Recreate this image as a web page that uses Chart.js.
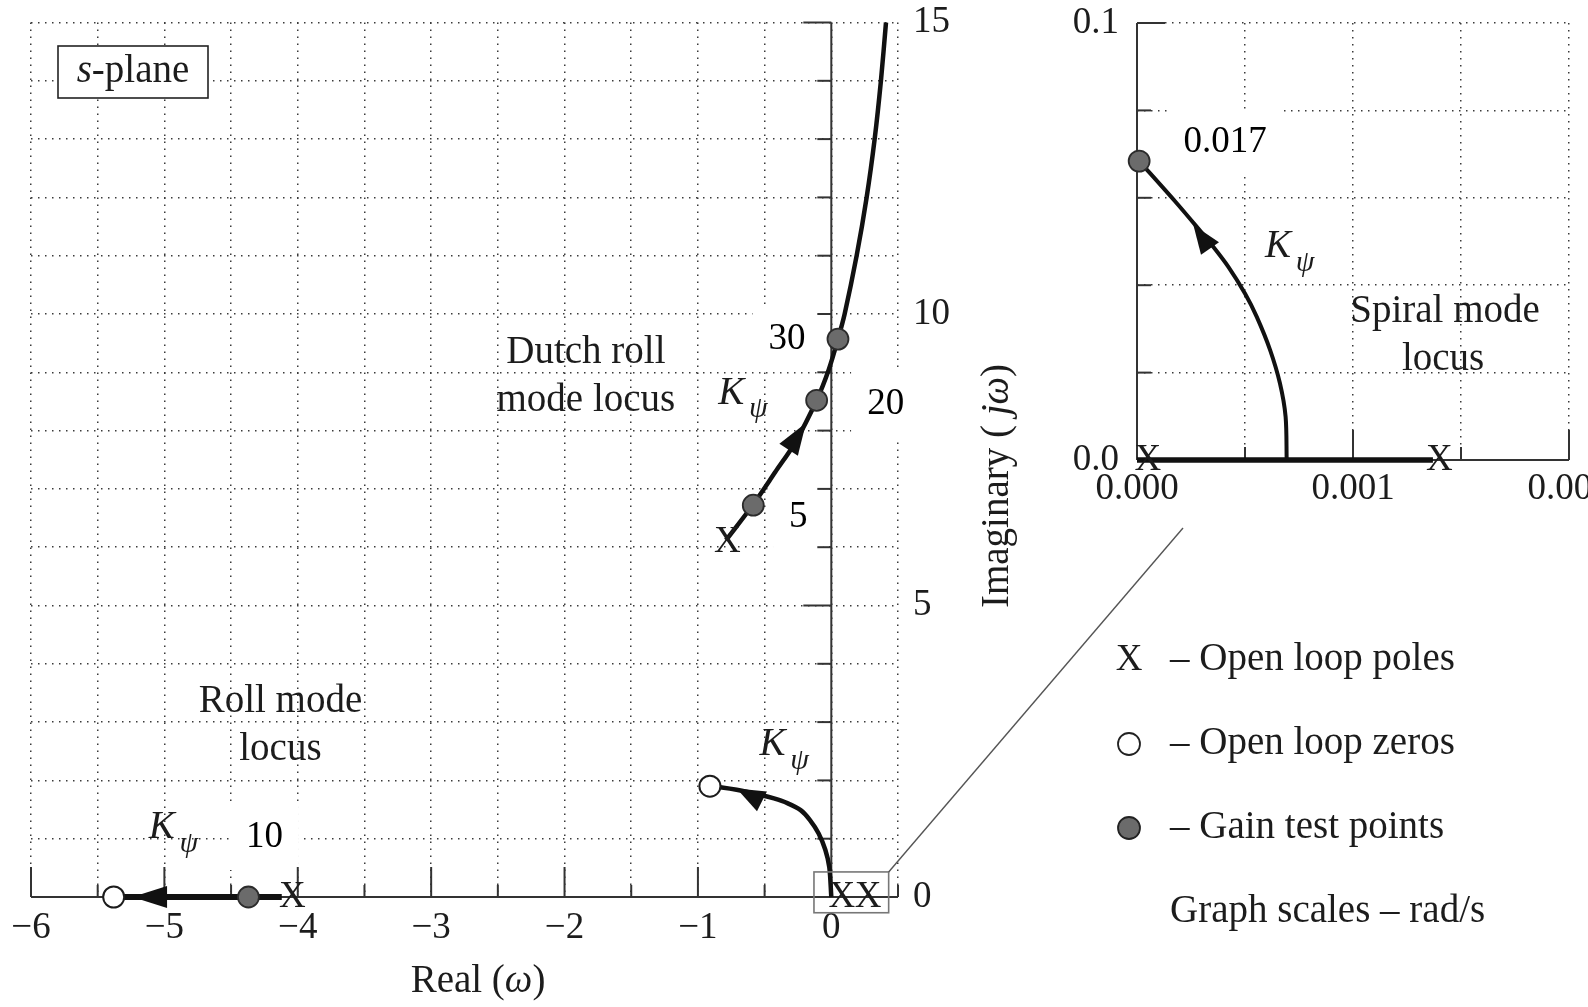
<!DOCTYPE html>
<html>
<head>
<meta charset="utf-8">
<script src="https://cdn.jsdelivr.net/npm/chart.js@4.4.1/dist/chart.umd.min.js"></script>
<style>
  html, body { margin: 0; padding: 0; background: #fff; overflow: hidden; width: 1588px; height: 1007px; }
  #main  { position: absolute; left: 0; top: 0; }
  #inset { position: absolute; left: 1060px; top: 0; }
</style>
</head>
<body>
<canvas id="main" width="1588" height="1007"></canvas>
<canvas id="inset" width="600" height="520"></canvas>
<script>
'use strict';

/* ---- s-plane root locus (rad/s) ---- */
const rollLocusX  = [-5.38, -4.12];
const rollLocusY  = [0, 0];
const dutchLocusX = [-0.79, -0.59, -0.42, -0.27, -0.11, -0.02, 0.05, 0.10, 0.19, 0.265, 0.325, 0.372, 0.41];
const dutchLocusY = [6.12, 6.72, 7.29, 7.80, 8.52, 9.04, 9.57, 10.0, 11.0, 12.0, 13.0, 14.0, 15.0];
const lowLocusX   = [0, -0.015, -0.045, -0.095, -0.16, -0.23, -0.33, -0.43, -0.53, -0.71, -0.82, -0.91];
const lowLocusY   = [0, 0.51, 0.81, 1.09, 1.32, 1.49, 1.61, 1.69, 1.75, 1.84, 1.88, 1.90];
const gainX       = [-4.37, -0.585, -0.11, 0.05];
const gainY       = [0, 6.72, 8.52, 9.57];
const gainLabels  = ['10', '5', '20', '30'];
const zeroX       = [-5.38, -0.91];
const zeroY       = [0, 1.90];
const poleX       = [-4.04, -0.78, 0.08, 0.275];
const poleY       = [0, 6.09, 0, 0];
// arrowheads, tail -> tip along each branch
const arrowFromX  = [-4.98, -0.32, -0.52];
const arrowFromY  = [0, 7.67, 1.64];
const arrowToX    = [-5.24, -0.19, -0.71];
const arrowToY    = [0, 8.13, 1.86];

/* ---- spiral mode close-up ---- */
const spiralAxisX   = [0, 0.00137];
const spiralAxisY   = [0, 0];
const spiralLocusX  = [0.000693, 0.000688, 0.000662, 0.000616, 0.000554, 0.0005, 0.000423, 0.000353, 0.000276, 0.000176, 0.00001];
const spiralLocusY  = [0, 0.0099, 0.0175, 0.0252, 0.0328, 0.0381, 0.0442, 0.0488, 0.0534, 0.0592, 0.0684];
const spiralGainX   = [0.00001];
const spiralGainY   = [0.0684];
const spiralGainLabels = ['0.017'];
const spiralPoleX   = [0.00005, 0.0014];
const spiralPoleY   = [0, 0];
const spiralArrowFromX = [0.000338];
const spiralArrowFromY = [0.0484];
const spiralArrowToX   = [0.000261];
const spiralArrowToY   = [0.0538];

const SERIF = '"Liberation Serif", "DejaVu Serif", serif';
const INK = '#1c1c1c';
const GRID = '#3a3a3a';

Chart.defaults.font.family = SERIF;
Chart.defaults.color = INK;

const pts = (xs, ys) => xs.map((x, i) => ({ x, y: ys[i] }));
const font = (size, italic) => (italic ? 'italic ' : '') + size + 'px ' + SERIF;

function line(ctx, x1, y1, x2, y2) {
  ctx.beginPath(); ctx.moveTo(x1, y1); ctx.lineTo(x2, y2); ctx.stroke();
}

// mixed roman / italic text, centred on cx
function drawParts(ctx, parts, cx, cy) {
  let total = 0;
  const widths = parts.map(p => {
    ctx.font = font(p[2] || 39, p[1]);
    const w = ctx.measureText(p[0]).width;
    total += w;
    return w;
  });
  let x = cx - total / 2;
  ctx.textAlign = 'left';
  ctx.textBaseline = 'middle';
  parts.forEach((p, i) => {
    ctx.font = font(p[2] || 39, p[1]);
    ctx.fillText(p[0], x, cy);
    x += widths[i];
  });
}

function drawKpsi(ctx, x, y) {
  ctx.fillStyle = INK;
  ctx.textAlign = 'center';
  ctx.textBaseline = 'middle';
  ctx.font = font(39, true);
  ctx.fillText('K', x, y);
  ctx.font = font(30, true);
  ctx.fillText('\u03c8', x + 27, y + 16);
}

function drawArrow(ctx, x0, y0, x1, y1, half) {
  const a = Math.atan2(y1 - y0, x1 - x0);
  ctx.beginPath();
  ctx.moveTo(x1, y1);
  ctx.lineTo(x0 - Math.sin(a) * half, y0 + Math.cos(a) * half);
  ctx.lineTo(x0 + Math.sin(a) * half, y0 - Math.cos(a) * half);
  ctx.closePath();
  ctx.fill();
}

function drawPoles(ctx, meta) {
  ctx.fillStyle = INK;
  ctx.font = font(37);
  ctx.textAlign = 'center';
  ctx.textBaseline = 'middle';
  meta.data.forEach(p => ctx.fillText('X', p.x, p.y));
}

function maskLabel(ctx, text, cx, cy) {
  ctx.font = font(37);
  const w = ctx.measureText(text).width;
  ctx.fillStyle = '#fff';
  ctx.fillRect(cx - w / 2 - 16, cy - 33, w + 32, 66);
}

// keep Chart.js from reserving room for edge labels
function fixBox(s, w, h) {
  if (w !== undefined) s.width = w;
  if (h !== undefined) s.height = h;
  s.paddingTop = 0; s.paddingBottom = 0; s.paddingLeft = 0; s.paddingRight = 0;
}

const gainLabelOffset = [[16, -60], [45, 12], [69, 4], [-51, 0]];

const mainDecor = {
  id: 'mainDecor',
  beforeDatasetsDraw(chart) {
    const { ctx, scales: { x, y } } = chart;
    const meta = chart.getDatasetMeta(0);
    ctx.save();
    meta.data.forEach((p, i) => {
      const o = gainLabelOffset[i];
      maskLabel(ctx, gainLabels[i], p.x + o[0], p.y + o[1]);
    });

    const x0 = x.getPixelForValue(0), y0 = y.getPixelForValue(0);
    ctx.strokeStyle = '#333';
    ctx.lineWidth = 2;
    line(ctx, x.getPixelForValue(-6), y0, x.getPixelForValue(0.5), y0);
    line(ctx, x0, y0, x0, y.getPixelForValue(15));
    x.ticks.forEach(t => {
      if (t.value === 0) return;
      const px = x.getPixelForValue(t.value);
      line(ctx, px, y0, px, y0 - (Number.isInteger(t.value) ? 30 : 12));
    });
    y.ticks.forEach(t => {
      if (t.value === 0) return;
      const py = y.getPixelForValue(t.value);
      line(ctx, x0, py, x0 - (t.value === 5 || t.value === 15 ? 28 : 14), py);
    });
    ctx.restore();
  },
  afterDatasetsDraw(chart) {
    const { ctx, scales: { x, y } } = chart;
    ctx.save();
    drawPoles(ctx, chart.getDatasetMeta(2));

    ctx.fillStyle = '#111';
    arrowToX.forEach((_, i) => {
      drawArrow(ctx,
        x.getPixelForValue(arrowFromX[i]), y.getPixelForValue(arrowFromY[i]),
        x.getPixelForValue(arrowToX[i]), y.getPixelForValue(arrowToY[i]), 11);
    });

    // gain values
    ctx.fillStyle = '#000';
    ctx.font = font(37);
    ctx.textAlign = 'center';
    ctx.textBaseline = 'middle';
    chart.getDatasetMeta(0).data.forEach((p, i) => {
      const o = gainLabelOffset[i];
      ctx.fillText(gainLabels[i], p.x + o[0], p.y + o[1]);
    });

    // branch notes
    ctx.fillStyle = INK;
    ctx.font = font(39);
    const note = (t, vx, vy) => ctx.fillText(t, x.getPixelForValue(vx), y.getPixelForValue(vy));
    note('Dutch roll', -1.84, 9.33);
    note('mode locus', -1.84, 8.52);
    note('Roll mode', -4.13, 3.35);
    note('locus', -4.13, 2.52);
    drawKpsi(ctx, x.getPixelForValue(-5.02), y.getPixelForValue(1.18));
    drawKpsi(ctx, x.getPixelForValue(-0.75), y.getPixelForValue(8.64));
    drawKpsi(ctx, x.getPixelForValue(-0.44), y.getPixelForValue(2.61));

    // s-plane tag
    ctx.fillStyle = '#fff';
    ctx.fillRect(58, 46, 150, 52);
    ctx.strokeStyle = '#222';
    ctx.lineWidth = 1.6;
    ctx.strokeRect(58, 46, 150, 52);
    ctx.fillStyle = INK;
    drawParts(ctx, [['s', true], ['-plane', false]], 133, 72);

    // box round the origin and its leader to the close-up
    const bx1 = x.getPixelForValue(-0.13), by1 = y.getPixelForValue(0.43);
    const bx2 = x.getPixelForValue(0.43),  by2 = y.getPixelForValue(-0.27);
    ctx.strokeStyle = '#777';
    ctx.lineWidth = 1.6;
    ctx.strokeRect(bx1, by1, bx2 - bx1, by2 - by1);
    ctx.strokeStyle = '#555';
    ctx.lineWidth = 1.4;
    line(ctx, bx2, by1, 1183, 528);

    // axis titles
    ctx.fillStyle = INK;
    drawParts(ctx, [['Real (', false], ['\u03c9', true], [')', false]], 478, 982);
    ctx.save();
    ctx.translate(998, 486);
    ctx.rotate(-Math.PI / 2);
    drawParts(ctx, [['Imaginary ( ', false], ['j\u03c9', true], [')', false]], 0, 0);
    ctx.restore();

    // key
    ctx.fillStyle = INK;
    ctx.font = font(37);
    ctx.textAlign = 'center';
    ctx.textBaseline = 'middle';
    ctx.fillText('X', 1129, 660);
    ctx.lineWidth = 1.8;
    ctx.strokeStyle = '#222';
    ctx.beginPath(); ctx.arc(1129, 744, 11, 0, Math.PI * 2);
    ctx.fillStyle = '#fff'; ctx.fill(); ctx.stroke();
    ctx.beginPath(); ctx.arc(1129, 828, 11, 0, Math.PI * 2);
    ctx.fillStyle = '#6b6b6b'; ctx.fill(); ctx.stroke();
    ctx.fillStyle = INK;
    ctx.font = font(39);
    ctx.textAlign = 'left';
    ctx.fillText('\u2013 Open loop poles', 1170, 660);
    ctx.fillText('\u2013 Open loop zeros', 1170, 744);
    ctx.fillText('\u2013 Gain test points', 1170, 828);
    ctx.fillText('Graph scales \u2013 rad/s', 1170, 912);
    ctx.restore();
  }
};

const insetDecor = {
  id: 'insetDecor',
  beforeDatasetsDraw(chart) {
    const { ctx, scales: { x, y } } = chart;
    ctx.save();
    chart.getDatasetMeta(0).data.forEach(p => maskLabel(ctx, spiralGainLabels[0], p.x + 86, p.y - 19));
    const x0 = x.getPixelForValue(0), y0 = y.getPixelForValue(0);
    ctx.strokeStyle = '#333';
    ctx.lineWidth = 2;
    line(ctx, x0, y0, x.getPixelForValue(0.002), y0);
    line(ctx, x0, y0, x0, y.getPixelForValue(0.1));
    x.ticks.forEach(t => {
      if (t.value === 0) return;
      const px = x.getPixelForValue(t.value);
      const m = t.value * 1000;
      line(ctx, px, y0, px, y0 - (Math.abs(m - Math.round(m)) < 1e-6 ? 30 : 13));
    });
    y.ticks.forEach(t => {
      if (t.value === 0) return;
      const py = y.getPixelForValue(t.value);
      line(ctx, x0, py, x0 + (Math.abs(t.value - 0.1) < 1e-9 ? 28 : 14), py);
    });
    ctx.restore();
  },
  afterDatasetsDraw(chart) {
    const { ctx, scales: { x, y } } = chart;
    ctx.save();
    drawPoles(ctx, chart.getDatasetMeta(1));
    ctx.fillStyle = '#111';
    drawArrow(ctx,
      x.getPixelForValue(spiralArrowFromX[0]), y.getPixelForValue(spiralArrowFromY[0]),
      x.getPixelForValue(spiralArrowToX[0]), y.getPixelForValue(spiralArrowToY[0]), 11);
    ctx.fillStyle = '#000';
    ctx.font = font(37);
    ctx.textAlign = 'center';
    ctx.textBaseline = 'middle';
    chart.getDatasetMeta(0).data.forEach(p => ctx.fillText(spiralGainLabels[0], p.x + 86, p.y - 19));
    ctx.fillStyle = INK;
    ctx.font = font(39);
    ctx.fillText('Spiral mode', x.getPixelForValue(0.001426), y.getPixelForValue(0.0339));
    ctx.fillText('locus', x.getPixelForValue(0.001417), y.getPixelForValue(0.0229));
    drawKpsi(ctx, x.getPixelForValue(0.000653), y.getPixelForValue(0.0488));
    ctx.restore();
  }
};

const gridOpts = { color: GRID, lineWidth: 1.5, drawTicks: false };
const borderOpts = { display: false, dash: [1.5, 5.5] };

new Chart(document.getElementById('inset'), {
  type: 'scatter',
  data: {
    datasets: [
      { data: pts(spiralGainX, spiralGainY), pointRadius: 10.5, pointBackgroundColor: '#6b6b6b',
        pointBorderColor: '#2b2b2b', pointBorderWidth: 1.8, order: 1, clip: false },
      { data: pts(spiralPoleX, spiralPoleY), pointRadius: 0, order: 1, clip: false },
      { data: pts(spiralAxisX, spiralAxisY), showLine: true, borderColor: '#111', borderWidth: 5.5,
        pointRadius: 0, order: 3, clip: false },
      { data: pts(spiralLocusX, spiralLocusY), showLine: true, borderColor: '#111', borderWidth: 4,
        tension: 0.3, pointRadius: 0, order: 3, clip: false }
    ]
  },
  options: {
    responsive: false, animation: false, events: [],
    plugins: { legend: { display: false }, tooltip: { enabled: false } },
    layout: { padding: { left: 0, top: 23, right: 91, bottom: 0 } },
    scales: {
      x: {
        type: 'linear', min: 0, max: 0.002, position: 'bottom',
        afterFit: s => fixBox(s, undefined, 60),
        ticks: {
          stepSize: 0.0005, autoSkip: false, maxRotation: 0, padding: 7, color: INK, font: { size: 37 },
          callback: v => { const m = v * 1000; return Math.abs(m - Math.round(m)) < 1e-6 ? v.toFixed(3) : ''; }
        },
        grid: gridOpts, border: borderOpts
      },
      y: {
        type: 'linear', min: 0, max: 0.1, position: 'left',
        afterFit: s => fixBox(s, 77),
        ticks: {
          stepSize: 0.02, autoSkip: false, padding: 18, color: INK, font: { size: 37 },
          callback: v => (Math.abs(v) < 1e-9 || Math.abs(v - 0.1) < 1e-9) ? v.toFixed(1) : ''
        },
        grid: gridOpts, border: borderOpts
      }
    }
  },
  plugins: [insetDecor]
});

new Chart(document.getElementById('main'), {
  type: 'scatter',
  data: {
    datasets: [
      { data: pts(gainX, gainY), pointRadius: 10.5, pointBackgroundColor: '#6b6b6b',
        pointBorderColor: '#2b2b2b', pointBorderWidth: 1.8, order: 1, clip: false },
      { data: pts(zeroX, zeroY), pointRadius: 10.5, pointBackgroundColor: '#fff',
        pointBorderColor: '#1c1c1c', pointBorderWidth: 2, order: 1, clip: false },
      { data: pts(poleX, poleY), pointRadius: 0, order: 1, clip: false },
      { data: pts(rollLocusX, rollLocusY), showLine: true, borderColor: '#111', borderWidth: 6,
        pointRadius: 0, order: 3, clip: false },
      { data: pts(dutchLocusX, dutchLocusY), showLine: true, borderColor: '#111', borderWidth: 4.5,
        tension: 0.3, pointRadius: 0, order: 3, clip: false },
      { data: pts(lowLocusX, lowLocusY), showLine: true, borderColor: '#111', borderWidth: 4.5,
        tension: 0.3, pointRadius: 0, order: 3, clip: false }
    ]
  },
  options: {
    responsive: false, animation: false, events: [],
    plugins: { legend: { display: false }, tooltip: { enabled: false } },
    layout: { padding: { left: 31, top: 22.5, right: 0, bottom: 0 } },
    scales: {
      x: {
        type: 'linear', min: -6, max: 0.5, position: 'bottom',
        afterFit: s => fixBox(s, undefined, 110),
        ticks: {
          stepSize: 0.5, autoSkip: false, maxRotation: 0, padding: 9, color: INK, font: { size: 37 },
          callback: v => Number.isInteger(v) ? (v < 0 ? '\u2212' + (-v) : String(v)) : ''
        },
        grid: gridOpts, border: borderOpts
      },
      y: {
        type: 'linear', min: 0, max: 15, position: 'right',
        afterFit: s => fixBox(s, 690),
        ticks: {
          stepSize: 1, autoSkip: false, padding: 15, color: INK, font: { size: 37 },
          callback: v => v % 5 === 0 ? String(v) : ''
        },
        grid: gridOpts, border: borderOpts
      }
    }
  },
  plugins: [mainDecor]
});
</script>
</body>
</html>
